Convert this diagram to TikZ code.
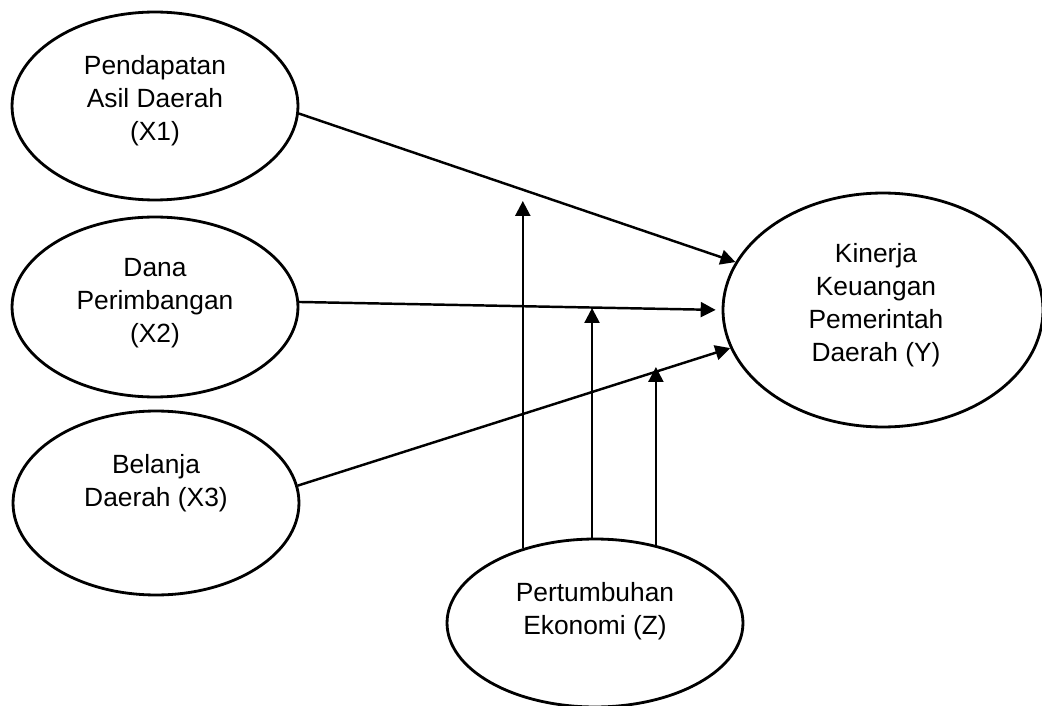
\documentclass[tikz,border=0pt]{standalone}
\usepackage{fontspec}
\setmainfont{Liberation Sans}
\usetikzlibrary{shapes.geometric}
\usetikzlibrary{arrows.meta}

\begin{document}
\begin{tikzpicture}[x=0.02cm, y=-0.02cm,
        var/.style={draw, ellipse, line width=1.6pt, inner sep=0pt},
        txt/.style={align=center, font=\fontsize{15pt}{18.7pt}\selectfont},
        arr/.style={line width=1.4pt, -{Triangle[length=8.5pt, width=8.5pt]}}]
        \useasboundingbox (0,0) rectangle (1042,706);

        % Draw the variables X1 - X2 - X3
        \node[var, minimum width=5.72cm, minimum height=3.76cm,
              label={[txt, yshift=0.1cm]center:Pendapatan\\Asil Daerah\\(X1)}] (X1) at (155,106) {};
        \node[var, minimum width=5.72cm, minimum height=3.6cm,
              label={[txt, yshift=0.08cm]center:Dana\\Perimbangan\\(X2)}] (X2) at (155,307) {};
        \node[var, minimum width=5.72cm, minimum height=3.68cm,
              label={[txt, yshift=0.4cm]center:Belanja\\Daerah (X3)}] (X3) at (156,503) {};

        % Draw the dependent Y and the moderator Z
        \node[var, minimum width=6.4cm, minimum height=4.68cm,
              label={[txt, xshift=-0.14cm, yshift=0.1cm]center:Kinerja\\Keuangan\\Pemerintah\\Daerah (Y)}] (Y) at (883,310) {};
        \node[var, minimum width=5.92cm, minimum height=3.36cm,
              label={[txt, yshift=0.24cm]center:Pertumbuhan\\Ekonomi (Z)}] (Z) at (595,623) {};

        % Tips of the moderating arrows
        \coordinate (t1) at (523,201);
        \coordinate (t2) at (592,308);
        \coordinate (t3) at (654,367);

        % Connect X1 - X2 - X3 to Y
        \draw[arr] (X1.-3) -- (Y.162);
        \draw[arr, shorten >=0.12cm] (X2.2) -- (Y.west);
        \draw[arr] (X3.7) -- (Y.194);

        % Connect Z to the paths
        \draw[arr] (Z.134.5) -- (Z.134.5 |- t1);
        \draw[arr] (Z.92) -- (Z.92 |- t2);
        \draw[arr] (Z.52.5) -- (Z.52.5 |- t3);
    \end{tikzpicture}
\end{document}
